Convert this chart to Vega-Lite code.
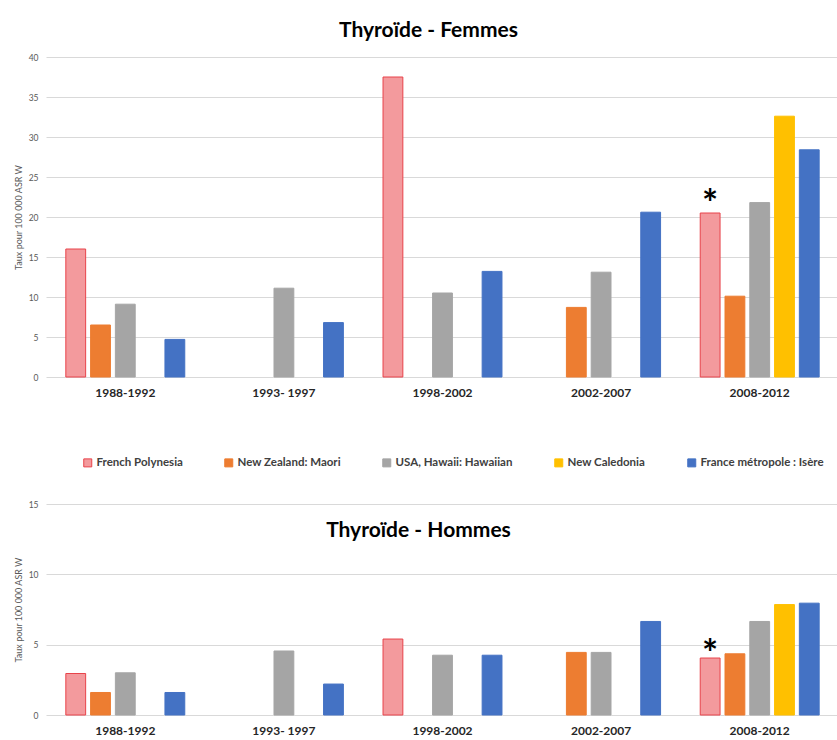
{
  "$schema": "https://vega.github.io/schema/vega-lite/v6.json",
  "background": "white",
  "padding": {"left": 14, "top": 20, "right": 0, "bottom": 0},
  "config": {
    "font": "Lato",
    "view": {"stroke": null},
    "axisY": {
      "grid": true, "gridColor": "#d9d9d9", "gridWidth": 1, "domain": false, "ticks": false,
      "labelFontSize": 8.5, "labelColor": "#595959", "labelPadding": 8,
      "titleFontSize": 9, "titleFontWeight": "normal", "titleColor": "#595959", "titlePadding": 5
    },
    "axisX": {
      "grid": false, "domain": false, "ticks": false, "labelAngle": 0,
      "labelFontSize": 12, "labelFontWeight": "bold", "labelColor": "#262626", "labelPadding": 10, "title": null
    }
  },
  "datasets": {
    "rows": [
      {"sex": "F", "period": "1988-1992", "series": "French Polynesia", "value": 16.0},
      {"sex": "F", "period": "1988-1992", "series": "New Zealand: Maori", "value": 6.5},
      {"sex": "F", "period": "1988-1992", "series": "USA, Hawaii: Hawaiian", "value": 9.1},
      {"sex": "F", "period": "1988-1992", "series": "France métropole : Isère", "value": 4.7},
      {"sex": "F", "period": "1993- 1997", "series": "USA, Hawaii: Hawaiian", "value": 11.1},
      {"sex": "F", "period": "1993- 1997", "series": "France métropole : Isère", "value": 6.8},
      {"sex": "F", "period": "1998-2002", "series": "French Polynesia", "value": 37.5},
      {"sex": "F", "period": "1998-2002", "series": "USA, Hawaii: Hawaiian", "value": 10.5},
      {"sex": "F", "period": "1998-2002", "series": "France métropole : Isère", "value": 13.2},
      {"sex": "F", "period": "2002-2007", "series": "New Zealand: Maori", "value": 8.7},
      {"sex": "F", "period": "2002-2007", "series": "USA, Hawaii: Hawaiian", "value": 13.1},
      {"sex": "F", "period": "2002-2007", "series": "France métropole : Isère", "value": 20.6},
      {"sex": "F", "period": "2008-2012", "series": "French Polynesia", "value": 20.5, "note": "*"},
      {"sex": "F", "period": "2008-2012", "series": "New Zealand: Maori", "value": 10.1},
      {"sex": "F", "period": "2008-2012", "series": "USA, Hawaii: Hawaiian", "value": 21.8},
      {"sex": "F", "period": "2008-2012", "series": "New Caledonia", "value": 32.6},
      {"sex": "F", "period": "2008-2012", "series": "France métropole : Isère", "value": 28.4},
      {"sex": "H", "period": "1988-1992", "series": "French Polynesia", "value": 2.95},
      {"sex": "H", "period": "1988-1992", "series": "New Zealand: Maori", "value": 1.6},
      {"sex": "H", "period": "1988-1992", "series": "USA, Hawaii: Hawaiian", "value": 3.0},
      {"sex": "H", "period": "1988-1992", "series": "France métropole : Isère", "value": 1.6},
      {"sex": "H", "period": "1993- 1997", "series": "USA, Hawaii: Hawaiian", "value": 4.55},
      {"sex": "H", "period": "1993- 1997", "series": "France métropole : Isère", "value": 2.2},
      {"sex": "H", "period": "1998-2002", "series": "French Polynesia", "value": 5.4},
      {"sex": "H", "period": "1998-2002", "series": "USA, Hawaii: Hawaiian", "value": 4.25},
      {"sex": "H", "period": "1998-2002", "series": "France métropole : Isère", "value": 4.25},
      {"sex": "H", "period": "2002-2007", "series": "New Zealand: Maori", "value": 4.45},
      {"sex": "H", "period": "2002-2007", "series": "USA, Hawaii: Hawaiian", "value": 4.45},
      {"sex": "H", "period": "2002-2007", "series": "France métropole : Isère", "value": 6.65},
      {"sex": "H", "period": "2008-2012", "series": "French Polynesia", "value": 4.05, "note": "*"},
      {"sex": "H", "period": "2008-2012", "series": "New Zealand: Maori", "value": 4.35},
      {"sex": "H", "period": "2008-2012", "series": "USA, Hawaii: Hawaiian", "value": 6.65},
      {"sex": "H", "period": "2008-2012", "series": "New Caledonia", "value": 7.85},
      {"sex": "H", "period": "2008-2012", "series": "France métropole : Isère", "value": 7.95}
    ]
  },
  "spacing": 31,
  "resolve": {
    "scale": {"fill": "independent", "stroke": "independent"},
    "legend": {"fill": "independent", "stroke": "independent"}
  },
  "vconcat": [
    {
      "width": 793,
      "height": 320,
      "title": {"text": "Thyroïde - Femmes", "fontSize": 21, "fontWeight": "bold", "color": "#000000", "anchor": "middle", "baseline": "alphabetic", "offset": -5, "frame": "group", "dx": -14},
      "data": {"name": "rows"},
      "transform": [{"filter": "datum.sex === 'F'"}],
      "encoding": {
        "x": {"field": "period", "type": "nominal", "sort": ["1988-1992", "1993- 1997", "1998-2002", "2002-2007", "2008-2012"], "scale": {"domain": ["1988-1992", "1993- 1997", "1998-2002", "2002-2007", "2008-2012"], "paddingInner": 0.25, "paddingOuter": 0.125}},
        "xOffset": {"field": "series", "type": "nominal", "scale": {"domain": ["French Polynesia", "New Zealand: Maori", "USA, Hawaii: Hawaiian", "New Caledonia", "France métropole : Isère"], "paddingInner": 0.2, "paddingOuter": 0}},
        "y": {"field": "value", "type": "quantitative", "title": "Taux pour 100 000 ASR W", "scale": {"domain": [0, 40], "nice": false}, "axis": {"values": [0, 5, 10, 15, 20, 25, 30, 35, 40]}}
      },
      "layer": [
        {
          "mark": {"type": "bar", "strokeWidth": 1},
          "encoding": {
            "fill": {"field": "series", "type": "nominal", "scale": {"domain": ["French Polynesia", "New Zealand: Maori", "USA, Hawaii: Hawaiian", "New Caledonia", "France métropole : Isère"], "range": ["#f39a9d", "#ed7d31", "#a5a5a5", "#ffc000", "#4472c4"]},
              "legend": {"orient": "none", "legendX": 36, "legendY": 400, "direction": "horizontal", "title": null, "symbolType": "square", "symbolSize": 64, "labelFontSize": 11.5, "labelFontWeight": "bold", "labelColor": "#404040", "labelOffset": 3, "columnPadding": 39, "symbolStrokeWidth": 1}},
            "stroke": {"field": "series", "type": "nominal", "scale": {"domain": ["French Polynesia", "New Zealand: Maori", "USA, Hawaii: Hawaiian", "New Caledonia", "France métropole : Isère"], "range": ["#e8434a", "#ed7d31", "#a5a5a5", "#ffc000", "#4472c4"]},
              "legend": {"orient": "none", "legendX": 36, "legendY": 400, "direction": "horizontal", "title": null, "symbolType": "square", "symbolSize": 64, "labelFontSize": 11.5, "labelFontWeight": "bold", "labelColor": "#404040", "labelOffset": 3, "columnPadding": 39, "symbolStrokeWidth": 1}}
          }
        },
        {
          "transform": [{"filter": "isValid(datum.note)"}],
          "mark": {"type": "text", "fontSize": 38, "fontWeight": "bold", "baseline": "alphabetic", "dy": 4, "color": "#000000"},
          "encoding": {"text": {"field": "note"}}
        }
      ]
    },
    {
      "width": 793,
      "height": 211,
      "title": {"text": "Thyroïde - Hommes", "fontSize": 21, "fontWeight": "bold", "color": "#000000", "anchor": "middle", "baseline": "alphabetic", "offset": -58, "frame": "group", "dx": -24},
      "data": {"name": "rows"},
      "transform": [{"filter": "datum.sex === 'H'"}],
      "encoding": {
        "x": {"field": "period", "type": "nominal", "sort": ["1988-1992", "1993- 1997", "1998-2002", "2002-2007", "2008-2012"], "scale": {"domain": ["1988-1992", "1993- 1997", "1998-2002", "2002-2007", "2008-2012"], "paddingInner": 0.25, "paddingOuter": 0.125}},
        "xOffset": {"field": "series", "type": "nominal", "scale": {"domain": ["French Polynesia", "New Zealand: Maori", "USA, Hawaii: Hawaiian", "New Caledonia", "France métropole : Isère"], "paddingInner": 0.2, "paddingOuter": 0}},
        "y": {"field": "value", "type": "quantitative", "title": "Taux pour 100 000 ASR W", "scale": {"domain": [0, 15], "nice": false}, "axis": {"values": [0, 5, 10, 15]}}
      },
      "layer": [
        {
          "mark": {"type": "bar", "strokeWidth": 1},
          "encoding": {
            "fill": {"field": "series", "type": "nominal", "scale": {"domain": ["French Polynesia", "New Zealand: Maori", "USA, Hawaii: Hawaiian", "New Caledonia", "France métropole : Isère"], "range": ["#f39a9d", "#ed7d31", "#a5a5a5", "#ffc000", "#4472c4"]}, "legend": null},
            "stroke": {"field": "series", "type": "nominal", "scale": {"domain": ["French Polynesia", "New Zealand: Maori", "USA, Hawaii: Hawaiian", "New Caledonia", "France métropole : Isère"], "range": ["#e8434a", "#ed7d31", "#a5a5a5", "#ffc000", "#4472c4"]}, "legend": null}
          }
        },
        {
          "transform": [{"filter": "isValid(datum.note)"}],
          "mark": {"type": "text", "fontSize": 38, "fontWeight": "bold", "baseline": "alphabetic", "dy": 9, "color": "#000000"},
          "encoding": {"text": {"field": "note"}}
        }
      ]
    }
  ]
}
